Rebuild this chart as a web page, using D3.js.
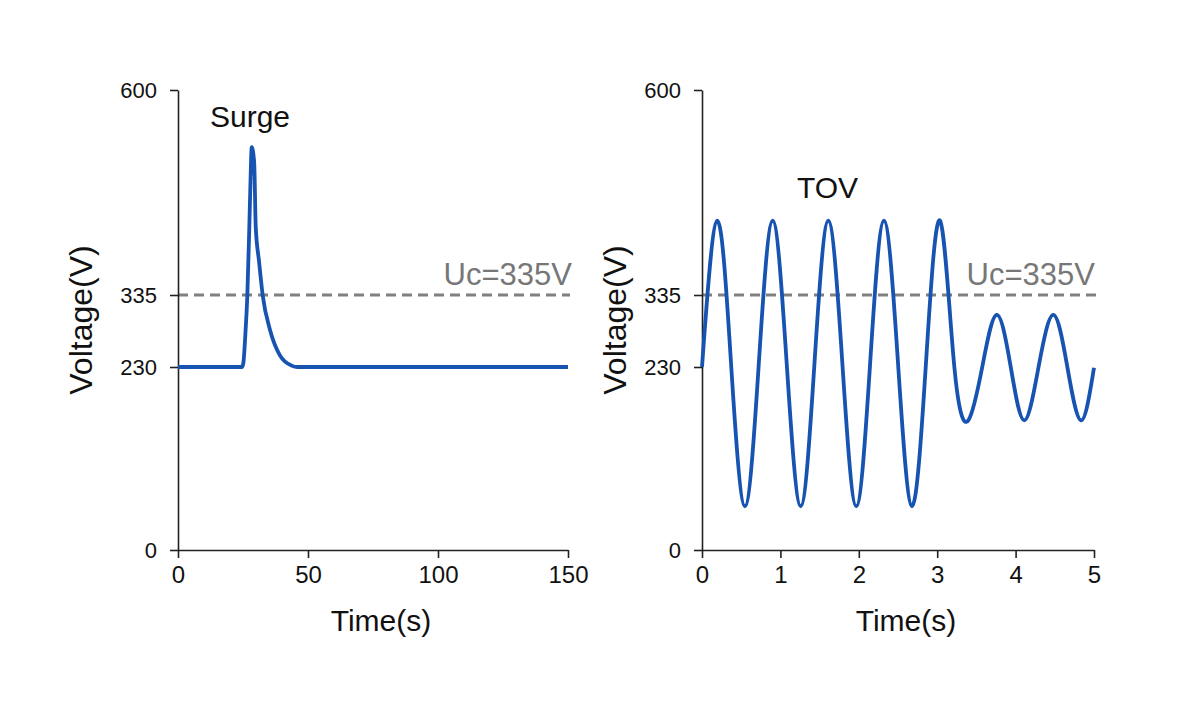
<!DOCTYPE html>
<html>
<head>
<meta charset="utf-8">
<script src="https://cdn.jsdelivr.net/npm/d3@7"></script>
<style>
  html, body { margin: 0; padding: 0; background: #ffffff; }
  svg { display: block; font-family: "Liberation Sans", Arial, Helvetica, sans-serif; }
</style>
</head>
<body>
<svg id="chart" width="1200" height="706"></svg>
<script>
// ---------------- DATA ----------------
const yTickValues = [0, 230, 335, 600];
const surgeXTicks = [0, 50, 100, 150];
const tovXTicks = [0, 1, 2, 3, 4, 5];
const ucValue = 335;
const ucLabel = "Uc=335V";

// Surge waveform (time, voltage)
const surgeTime    = [0, 24.6, 25.1, 26.0, 26.65, 27.4, 27.9, 28.35, 29.3, 29.9, 31.15, 32.6, 35.4, 39.2, 43.7, 46.0, 150];
const surgeVoltage = [230, 230, 235, 284, 333, 419, 484, 526, 506, 423, 379, 334, 284, 247, 232, 230, 230];

// TOV waveform (time, voltage)
const tovTime    = [0, 0.195, 0.37, 0.548, 0.725, 0.902, 1.08, 1.259, 1.435, 1.611, 1.79, 1.968, 2.145, 2.321, 2.50, 2.679, 2.857, 3.036, 3.217, 3.397, 3.578, 3.759, 3.935, 4.111, 4.296, 4.481, 4.657, 4.834, 5.0];
const tovVoltage = [230, 431, 236, 55, 236, 431, 236, 55, 236, 431, 236, 55, 236, 431, 236, 55, 236, 431, 232, 163, 232, 306, 232, 163, 232, 306, 232, 163, 229];

// ---------------- DRAWING ----------------
const svg = d3.select("#chart");
const BLUE = "#1753b0";
const GREY = "#808080";
const FONT = '"Liberation Sans", Arial, Helvetica, sans-serif';

function panel(cfg) {
  const x = d3.scaleLinear().domain(cfg.xDomain).range(cfg.xRange);
  const y = d3.scaleLinear().domain(yTickValues).range([550, 367, 295, 90]);
  const g = svg.append("g");

  // dashed Uc line
  g.append("line")
    .attr("x1", x(cfg.xDomain[0])).attr("x2", x(cfg.xDomain[1]) + 2)
    .attr("y1", y(ucValue)).attr("y2", y(ucValue))
    .attr("stroke", GREY).attr("stroke-width", 2.8)
    .attr("stroke-dasharray", "10,6");

  g.append("text")
    .attr("x", x(cfg.xDomain[1]) + cfg.ucDx).attr("y", 285)
    .attr("text-anchor", "end")
    .attr("font-size", 31).attr("fill", "#777777")
    .text(ucLabel);

  // x axis
  const xa = g.append("g").attr("transform", `translate(0,${y(0)})`)
    .call(d3.axisBottom(x).tickValues(cfg.xTicks).tickSize(8).tickSizeOuter(0).tickPadding(8).tickFormat(d3.format("d")));
  // y axis
  const ya = g.append("g").attr("transform", `translate(${x(cfg.xDomain[0])},0)`)
    .call(d3.axisLeft(y).tickValues(yTickValues).tickSize(8).tickSizeOuter(0).tickPadding(13).tickFormat(d3.format("d")));

  [xa, ya].forEach(a => {
    a.attr("font-family", FONT);
    a.select(".domain").attr("stroke", "#222").attr("stroke-width", 1.6);
    a.selectAll(".tick line").attr("stroke", "#222").attr("stroke-width", 1.6);
    a.selectAll(".tick text").attr("fill", "#111");
  });
  xa.attr("font-size", 24);
  ya.attr("font-size", 22);

  // waveform
  const pts = cfg.t.map((t, i) => [t, cfg.v[i]]);
  g.append("path")
    .datum(pts)
    .attr("fill", "none")
    .attr("stroke", BLUE)
    .attr("stroke-width", 3.8)
    .attr("stroke-linejoin", "round")
    .attr("d", d3.line().x(d => x(d[0])).y(d => y(d[1])).curve(cfg.curve));

  // title
  g.append("text")
    .attr("x", cfg.titleX).attr("y", cfg.titleY)
    .attr("font-size", 30).attr("fill", "#111")
    .text(cfg.title);

  // axis labels
  const xMid = (cfg.xRange[0] + cfg.xRange[1]) / 2;
  g.append("text")
    .attr("x", xMid + 8).attr("y", 631)
    .attr("text-anchor", "middle")
    .attr("font-size", 30).attr("fill", "#111")
    .text("Time(s)");

  g.append("text")
    .attr("transform", `translate(${cfg.yLabelX},320) rotate(-90)`)
    .attr("text-anchor", "middle")
    .attr("font-size", 32).attr("fill", "#111")
    .text("Voltage(V)");
}

panel({
  xDomain: [0, 150], xRange: [178, 568], xTicks: surgeXTicks,
  t: surgeTime, v: surgeVoltage, curve: d3.curveMonotoneX,
  title: "Surge", titleX: 210, titleY: 127,
  yLabelX: 92, ucDx: 4
});

panel({
  xDomain: [0, 5], xRange: [702, 1094], xTicks: tovXTicks,
  t: tovTime, v: tovVoltage, curve: d3.curveNatural,
  title: "TOV", titleX: 797, titleY: 198,
  yLabelX: 626, ucDx: 1
});
</script>
</body>
</html>
